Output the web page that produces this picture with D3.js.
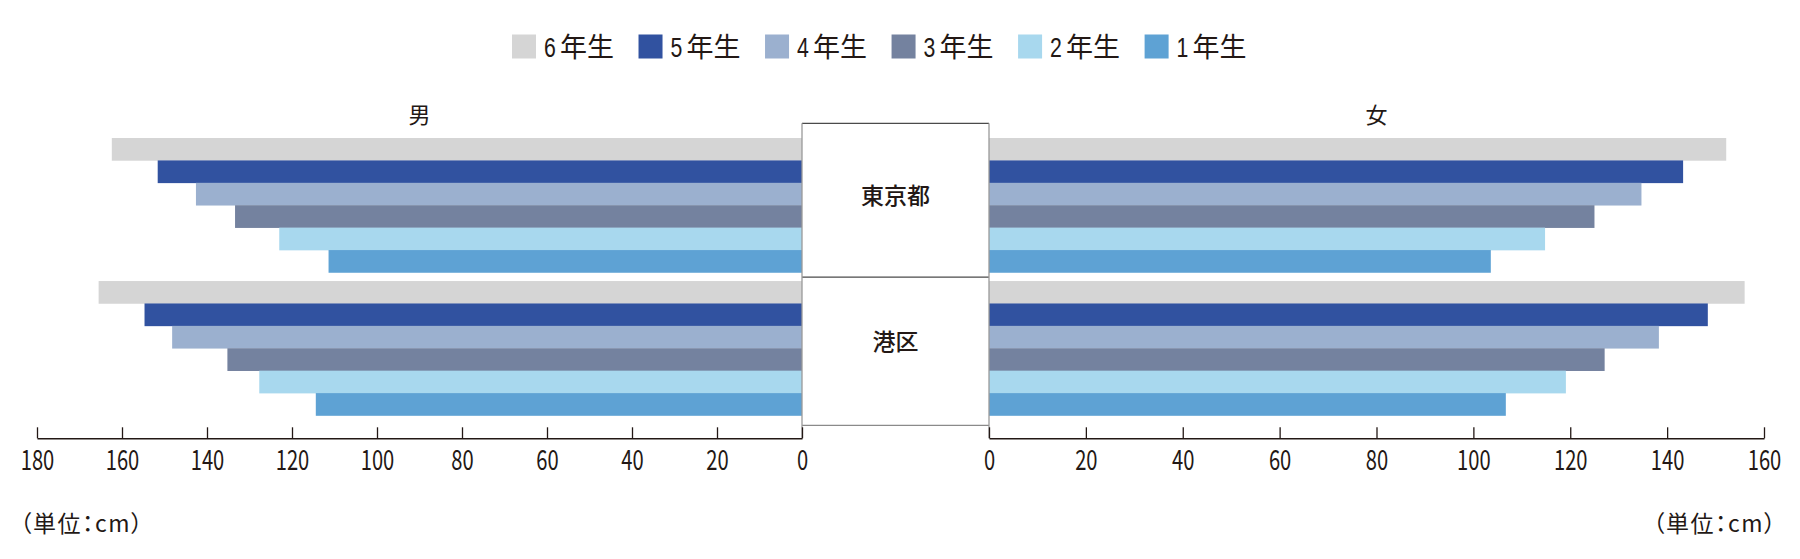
<!DOCTYPE html>
<html>
<head>
<meta charset="utf-8">
<script src="https://cdn.jsdelivr.net/npm/d3@7"></script>
<style>
  html, body { margin: 0; padding: 0; background: #fff; }
  svg { display: block; }
  text { font-family: "Noto Sans CJK JP", sans-serif; fill: #231815; }
  .cjk { font-family: "Noto Sans CJK JP", sans-serif; font-feature-settings: "palt"; }
  .num { font-family: "Liberation Sans", "Arial", sans-serif; }
</style>
</head>
<body>
<svg id="chart" width="1800" height="559"></svg>
<script>
// ---- data ----
const regions = ["東京都", "港区"];
const grades = ["6年生", "5年生", "4年生", "3年生", "2年生", "1年生"];
const colors = ["#d5d5d5", "#3152a0", "#9bb0cf", "#74829f", "#a8d8ee", "#5ea2d4"];
// male values (left side), per region, in grade order above
const maleTokyo = [162.4, 151.6, 142.6, 133.4, 123.0, 111.4];
const maleMinato = [165.5, 154.7, 148.2, 135.2, 127.7, 114.4];
// female values (right side)
const femaleTokyo = [152.2, 143.3, 134.7, 125.0, 114.8, 103.6];
const femaleMinato = [156.0, 148.4, 138.3, 127.1, 119.1, 106.7];
const leftTicks = [0, 20, 40, 60, 80, 100, 120, 140, 160, 180];
const rightTicks = [0, 20, 40, 60, 80, 100, 120, 140, 160];
const sideLabels = ["男", "女"];
const unitLabel = "（単位：cm）";

const maleData = [maleTokyo, maleMinato];
const femaleData = [femaleTokyo, femaleMinato];

// ---- layout ----
const svg = d3.select("#chart");
const boxL = 802, boxR = 989;
const axisY = 438.3;
const condense = 0.72;

const xL = d3.scaleLinear().domain([0, 180]).range([boxL, 37]);
const xR = d3.scaleLinear().domain([0, 160]).range([boxR, 1764]);

const yRegion = d3.scaleBand().domain(regions).range([138, 415.5]).paddingInner(0.06).paddingOuter(0);
const yGrade = d3.scaleBand().domain(grades).range([0, yRegion.bandwidth()]);

// ---- legend ----
const legendX = d3.scalePoint().domain(grades).range([512, 1144.6]);
const lg = svg.append("g");
grades.forEach((g, i) => {
  const gx = legendX(g);
  lg.append("rect").attr("x", gx).attr("y", 34.5).attr("width", 24).attr("height", 24).attr("fill", colors[i]);
  lg.append("text").attr("class", "num")
    .attr("transform", `translate(${gx + 32},57) scale(${condense + 0.04},1)`)
    .attr("font-size", 28).text(g.slice(0, 1));
  lg.append("text").attr("class", "cjk").attr("x", gx + 48).attr("y", 57)
    .attr("font-size", 27).text(g.slice(1));
});

// ---- side labels ----
svg.append("text").attr("class", "cjk").attr("x", (xL(0) + xL(180)) / 2).attr("y", 123)
  .attr("text-anchor", "middle").attr("font-size", 22).text(sideLabels[0]);
svg.append("text").attr("class", "cjk").attr("x", (xR(0) + xR(160)) / 2).attr("y", 123)
  .attr("text-anchor", "middle").attr("font-size", 22).text(sideLabels[1]);

// ---- bars ----
regions.forEach((r, ri) => {
  const y0 = yRegion(r);
  grades.forEach((g, gi) => {
    const yy = y0 + yGrade(g);
    const h = yGrade.bandwidth();
    const mv = maleData[ri][gi];
    svg.append("rect").attr("x", xL(mv)).attr("y", yy).attr("width", xL(0) - xL(mv)).attr("height", h + 0.3)
      .attr("fill", colors[gi]);
    const fv = femaleData[ri][gi];
    svg.append("rect").attr("x", xR(0)).attr("y", yy).attr("width", xR(fv) - xR(0)).attr("height", h + 0.3)
      .attr("fill", colors[gi]);
  });
});

// ---- center box ----
const boxTop = 123.3, boxMid = 277.2, boxBot = 425.3;
svg.append("line").attr("x1", boxL).attr("x2", boxR).attr("y1", boxTop).attr("y2", boxTop).attr("stroke", "#4a4a4a").attr("stroke-width", 1.2);
svg.append("line").attr("x1", boxL).attr("x2", boxR).attr("y1", boxMid).attr("y2", boxMid).attr("stroke", "#4a4a4a").attr("stroke-width", 1.2);
svg.append("line").attr("x1", boxL).attr("x2", boxR).attr("y1", boxBot).attr("y2", boxBot).attr("stroke", "#8a8a8a").attr("stroke-width", 1.2);
[boxL, boxR].forEach(x => {
  svg.append("line").attr("x1", x).attr("x2", x).attr("y1", boxTop).attr("y2", axisY).attr("stroke", "#9a9a9a").attr("stroke-width", 1.3);
});
svg.append("text").attr("class", "cjk").attr("x", (boxL + boxR) / 2).attr("y", 203.5)
  .attr("text-anchor", "middle").attr("font-size", 23).attr("font-weight", 500).text(regions[0]);
svg.append("text").attr("class", "cjk").attr("x", (boxL + boxR) / 2).attr("y", 349.5)
  .attr("text-anchor", "middle").attr("font-size", 23).attr("font-weight", 500).text(regions[1]);

// ---- axes ----
function styleAxis(g) {
  g.select(".domain").attr("stroke", "#231815").attr("stroke-width", 1.5);
  g.selectAll(".tick line").attr("stroke", "#231815").attr("stroke-width", 1.3);
  g.selectAll(".tick text").attr("font-size", 28).attr("fill", "#231815")
    .attr("font-family", "'Liberation Sans', Arial, sans-serif")
    .attr("y", null).attr("dy", null)
    .attr("transform", `translate(0,32) scale(${condense},1)`);
}
svg.append("g").attr("transform", `translate(0,${axisY})`)
  .call(d3.axisBottom(xL).tickValues(leftTicks).tickSize(-11).tickSizeOuter(0).tickFormat(d3.format("d")))
  .call(styleAxis);
svg.append("g").attr("transform", `translate(0,${axisY})`)
  .call(d3.axisBottom(xR).tickValues(rightTicks).tickSize(-11).tickSizeOuter(0).tickFormat(d3.format("d")))
  .call(styleAxis);

// ---- unit labels ----
svg.append("text").attr("class", "cjk").attr("x", 20).attr("y", 532).attr("font-size", 23)
  .attr("letter-spacing", 1.5).text(unitLabel);
svg.append("text").attr("class", "cjk").attr("x", 1777).attr("y", 532).attr("text-anchor", "end").attr("font-size", 23)
  .attr("letter-spacing", 1.5).text(unitLabel);
</script>
</body>
</html>
